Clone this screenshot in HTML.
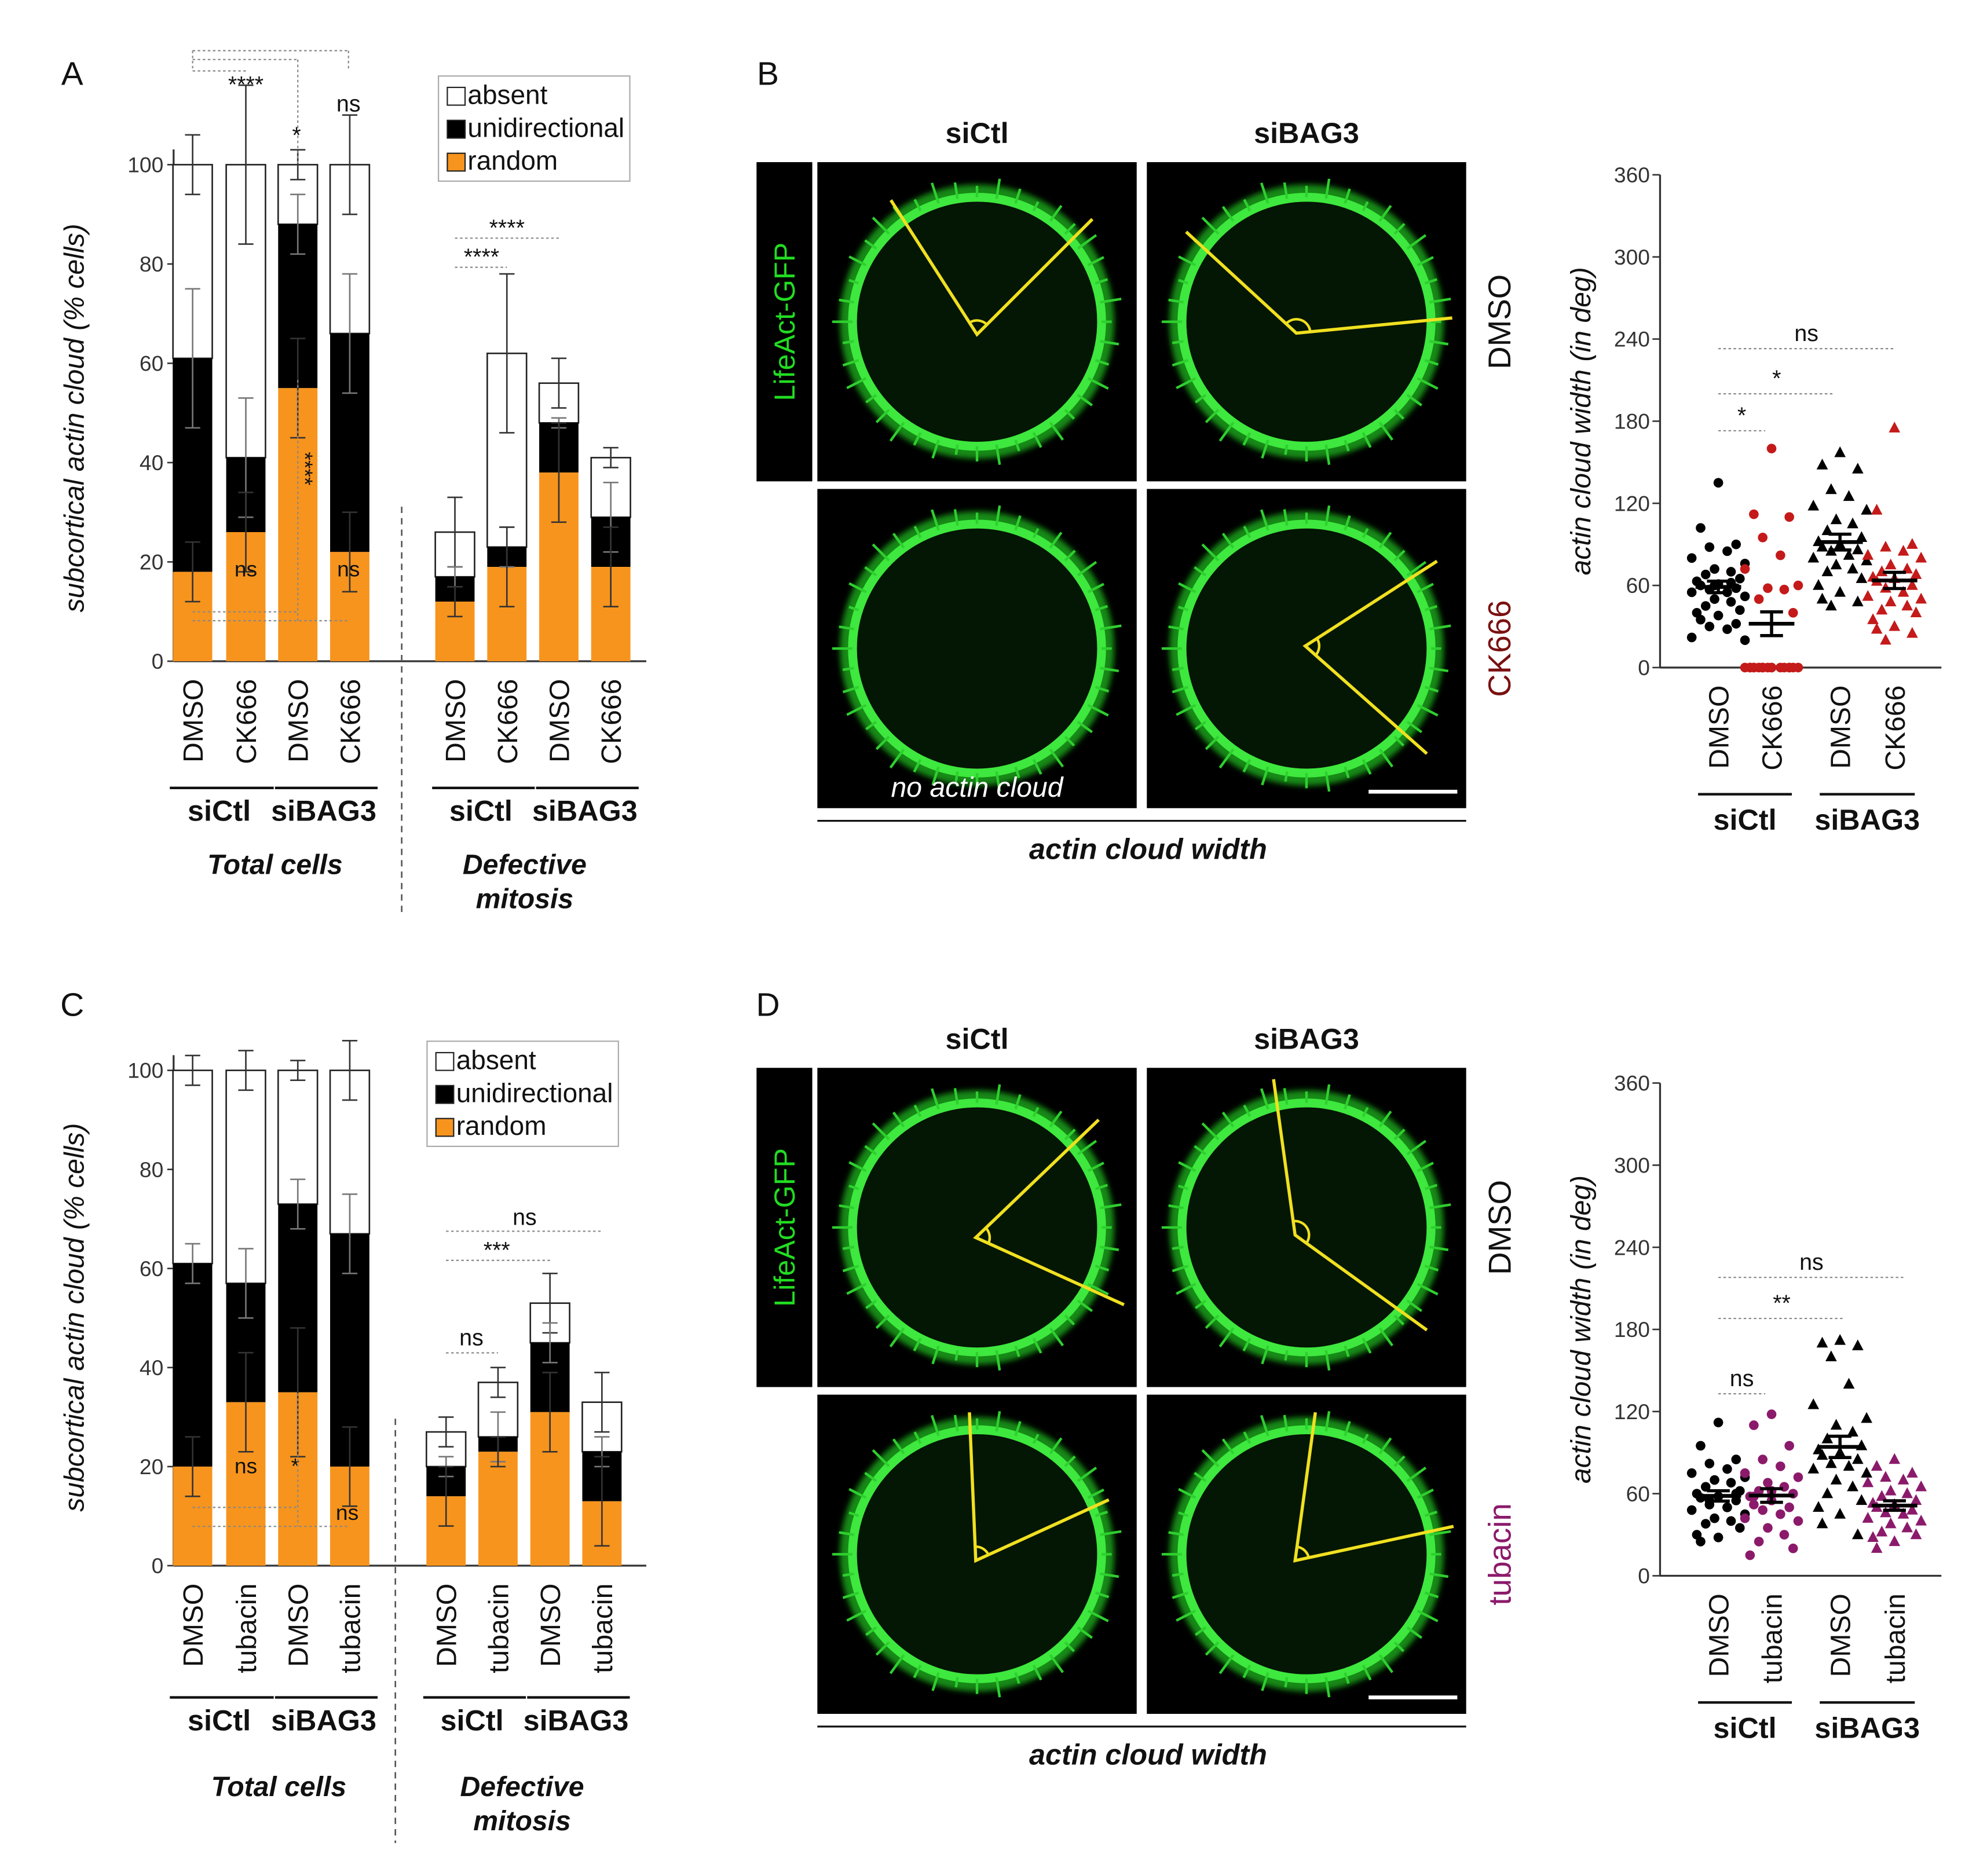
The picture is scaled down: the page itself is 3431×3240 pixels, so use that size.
<!DOCTYPE html>
<html><head><meta charset="utf-8"><style>
html,body{margin:0;padding:0;background:#fff;}
svg{display:block;font-family:"Liberation Sans",sans-serif;}
</style></head><body>
<svg id="fig" width="3431" height="3240" viewBox="0 0 1568 1481" preserveAspectRatio="none">
<defs>
<filter id="blur1"><feGaussianBlur stdDeviation="2.2"/></filter>
</defs>
<rect x="0" y="0" width="1568" height="1481" fill="#fff"/>
<g id="panels"></g>
</svg>
<script>
// ===== Panel A data (% cells) =====
const catsA = ["DMSO","CK666","DMSO","CK666","DMSO","CK666","DMSO","CK666"];
const randomA = [18,26,55,22,12,19,38,19];
const uniA = [61,41,88,66,17,23,48,29];
const totalA = [100,100,100,100,26,62,56,41];
const errTotA = [6,16,3,10,7,16,5,2];
const errUniA = [14,12,6,12,2,4,1,7];
const errRandA = [6,8,10,8,3,8,10,8];
// ===== Panel C data =====
const catsC = ["DMSO","tubacin","DMSO","tubacin","DMSO","tubacin","DMSO","tubacin"];
const randomC = [20,33,35,20,14,23,31,13];
const uniC = [61,57,73,67,20,26,45,23];
const totalC = [100,100,100,100,27,37,53,33];
const errTotC = [3,4,2,6,3,3,6,6];
const errUniC = [4,7,5,8,2,5,4,3];
const errRandC = [6,10,13,8,6,3,8,9];
const yTicksBar = [0,20,40,60,80,100];
// ===== Panel B scatter (deg) =====
const bCtlDMSO = [135,102,90,88,85,80,76,72,70,68,65,63,61,60,58,57,55,55,52,50,48,45,42,40,38,35,32,30,28,22,20,60,62];
const bCtlCK = [160,112,110,95,82,72,60,58,57,50,40,0,0,0,0,0,0,0,0,0,0,0,0,0,0,0,0,0];
const bBagDMSO = [157,148,145,130,125,118,115,108,105,100,95,92,90,88,86,85,82,80,78,75,72,70,65,60,55,50,48,45];
const bBagCK = [175,115,90,88,85,82,80,75,72,70,68,66,65,63,60,58,55,52,50,48,45,42,40,35,30,28,25,20];
// ===== Panel D scatter (deg) =====
const dCtlDMSO = [112,95,85,82,78,75,72,70,68,65,62,60,58,57,55,52,50,48,45,42,40,38,35,30,28,25,60,55,50];
const dCtlTub = [118,110,95,85,80,75,72,68,65,62,60,58,55,52,50,48,45,42,40,35,30,25,20,15,62,58];
const dBagDMSO = [172,170,168,160,140,125,115,110,105,100,95,92,90,88,85,82,80,78,75,70,65,60,55,50,45,38,30];
const dBagTub = [85,80,75,72,70,68,65,62,60,58,55,53,52,50,48,46,45,42,40,38,35,32,30,28,25,20];
const yTicksDeg = [0,60,120,180,240,300,360];

const NS="http://www.w3.org/2000/svg";
const root=document.getElementById('panels');
function el(tag,attrs,parent,text){const e=document.createElementNS(NS,tag);for(const k in attrs)e.setAttribute(k,attrs[k]);if(text!==undefined)e.textContent=text;(parent||root).appendChild(e);return e;}
function T(x,y,s,size,opts,parent){opts=opts||{};const a={x:x,y:y,'font-size':size,fill:opts.fill||'#111','text-anchor':opts.anchor||'middle'};if(opts.weight)a['font-weight']=opts.weight;if(opts.style)a['font-style']=opts.style;if(opts.rot)a.transform='rotate('+opts.rot+' '+x+' '+y+')';const t=el('text',a,parent,s);return t;}

function barPanel(yBase,y100,xs,cats,rnd,uni,tot,eT,eU,eR,name){
  const g=el('g',{});
  
  
  const ys=v=>yBase-(v/100)*(yBase-y100);
  const ax=137;
  el('line',{x1:ax,y1:ys(100)-12,x2:ax,y2:yBase,stroke:'#333','stroke-width':1.5},g);
  el('line',{x1:ax,y1:yBase,x2:510,y2:yBase,stroke:'#333','stroke-width':1.5},g);
  yTicksBar.forEach(v=>{
    el('line',{x1:ax-5,y1:ys(v),x2:ax,y2:ys(v),stroke:'#333','stroke-width':1.2},g);
    const t=T(ax-8,ys(v)+6,String(v),17,{anchor:'end',fill:'#333'},g);
    
    
  });
  const bw=31;
  xs.forEach((cx,i)=>{
    const x=cx-bw/2;
    const rw=el('rect',{x:x,y:ys(tot[i]),width:bw,height:ys(uni[i])-ys(tot[i]),fill:'#fff',stroke:'#222','stroke-width':1.2},g);
    
    
    const rb=el('rect',{x:x,y:ys(uni[i]),width:bw,height:ys(rnd[i])-ys(uni[i]),fill:'#000'},g);
    
    
    const ro=el('rect',{x:x,y:ys(rnd[i]),width:bw,height:yBase-ys(rnd[i]),fill:'#f7941d'},g);
    
    
    [[tot[i],eT[i],'#333'],[uni[i],eU[i],'#777'],[rnd[i],eR[i],'#333']].forEach(([v,e,c])=>{
      el('line',{x1:cx,y1:ys(v+e),x2:cx,y2:ys(v-e),stroke:c,'stroke-width':1.2},g);
      el('line',{x1:cx-6,y1:ys(v+e),x2:cx+6,y2:ys(v+e),stroke:c,'stroke-width':1.2},g);
      el('line',{x1:cx-6,y1:ys(v-e),x2:cx+6,y2:ys(v-e),stroke:c,'stroke-width':1.2},g);
    });
    const lt=T(cx+8,yBase+14,cats[i],22,{anchor:'end',rot:-90},g);
    
    
  });
  return {g:g,ys:ys};
}
function groupLabels(yLine,centers,g){
  [[centers[0],centers[1],'siCtl'],[centers[2],centers[3],'siBAG3'],[centers[4],centers[5],'siCtl'],[centers[6],centers[7],'siBAG3']].forEach(([a,b,s])=>{
    el('line',{x1:a-18,y1:yLine,x2:b+22,y2:yLine,stroke:'#111','stroke-width':2},g);
    const t=T((a+b)/2,yLine+26,s,23,{weight:'bold'},g);
    
    
  });
}
function dotted(x1,y1,x2,y2,g){el('line',{x1:x1,y1:y1,x2:x2,y2:y2,stroke:'#888','stroke-width':1,'stroke-dasharray':'2,2'},g);}
function legend(x,y,g){
  const lg=el('g',{},g);
  
  
  el('rect',{x:x,y:y,width:151,height:83,fill:'#fff',stroke:'#aaa','stroke-width':1},lg);
  [['absent','#fff'],['unidirectional','#000'],['random','#f7941d']].forEach(([s,c],i)=>{
    el('rect',{x:x+7,y:y+9+i*26,width:14,height:14,fill:c,stroke:'#222','stroke-width':1},lg);
    const t=T(x+23,y+22+i*26,s,21,{anchor:'start'},lg);
    
    
  });
}

// ---------- Panel A ----------
const xsA=[152,194,235,276,359,400,441,482];
const A=barPanel(522,130,xsA,catsA,randomA,uniA,totalA,errTotA,errUniA,errRandA,'panel-a-bar-chart');
T(57,67,'A',26,{anchor:'middle'},A.g);
{const t=T(66,330,'subcortical actin cloud (% cells)',22,{style:'italic',rot:-90},A.g);}
legend(346,60,A.g);
groupLabels(622,xsA,A.g);
T(217,690,'Total cells',22,{weight:'bold',style:'italic'},A.g);
T(414,690,'Defective',22,{weight:'bold',style:'italic'},A.g);
T(414,717,'mitosis',22,{weight:'bold',style:'italic'},A.g);
el('line',{x1:317,y1:400,x2:317,y2:720,stroke:'#555','stroke-width':1.2,'stroke-dasharray':'5,4'},A.g);
dotted(152,40,275,40,A.g);dotted(152,40,152,56,A.g);dotted(275,40,275,56,A.g);
dotted(152,47,235,47,A.g);dotted(235,47,235,130,A.g);dotted(152,56,194,56,A.g);
T(194,73,'****',18,{},A.g);T(234,113,'*',18,{},A.g);T(275,88,'ns',18,{},A.g);
T(194,455,'ns',17,{},A.g);T(275,455,'ns',17,{},A.g);T(235,370,'****',17,{rot:90},A.g);
dotted(152,483,235,483,A.g);dotted(152,490,276,490,A.g);dotted(235,300,235,490,A.g);
dotted(359,188,441,188,A.g);dotted(359,211,400,211,A.g);
T(400,186,'****',18,{},A.g);T(380,209,'****',18,{},A.g);

// ---------- Panel C ----------
const xsC=[152,194,235,276,352,393,434,475];
const C=barPanel(1236,845,xsC,catsC,randomC,uniC,totalC,errTotC,errUniC,errRandC,'panel-c-bar-chart');
T(57,802,'C',26,{},C.g);
{const t=T(66,1040,'subcortical actin cloud (% cells)',22,{style:'italic',rot:-90},C.g);}
legend(337,822,C.g);
groupLabels(1340,xsC,C.g);
T(220,1418,'Total cells',22,{weight:'bold',style:'italic'},C.g);
T(412,1418,'Defective',22,{weight:'bold',style:'italic'},C.g);
T(412,1445,'mitosis',22,{weight:'bold',style:'italic'},C.g);
el('line',{x1:312,y1:1120,x2:312,y2:1455,stroke:'#555','stroke-width':1.2,'stroke-dasharray':'5,4'},C.g);
T(194,1163,'ns',17,{},C.g);T(233,1163,'*',17,{},C.g);T(274,1200,'ns',17,{},C.g);
dotted(152,1190,235,1190,C.g);dotted(152,1205,276,1205,C.g);dotted(235,1100,235,1205,C.g);
dotted(352,972,475,972,C.g);dotted(352,995,434,995,C.g);dotted(352,1068,393,1068,C.g);
T(414,967,'ns',18,{},C.g);T(392,993,'***',18,{},C.g);T(372,1062,'ns',18,{},C.g);

// ---------- Microscopy panels ----------
function cell(x,y,w,h,angle,name){
  const g=el('g',{});
  
  
  el('rect',{x:x,y:y,width:w,height:h,fill:'#000'},g);
  const cx=x+w/2,cy=y+h/2,r=w*0.39;
  el('circle',{cx:cx,cy:cy,r:r+3,fill:'none',stroke:'#168a16','stroke-width':14,filter:'url(#blur1)'},g);
  el('circle',{cx:cx,cy:cy,r:r,fill:'#041604',stroke:'#3ee83e','stroke-width':7},g);
  for(let k=0;k<40;k++){const a=k*9*Math.PI/180;const l=8+((k*7)%11);el('line',{x1:cx+Math.cos(a)*r,y1:cy+Math.sin(a)*r,x2:cx+Math.cos(a)*(r+l),y2:cy+Math.sin(a)*(r+l),stroke:'#2fcf2f','stroke-width':2},g);}
  if(angle){const [ox,oy,ax1,ay1,ax2,ay2]=angle;
    el('polyline',{points:`${ax1},${ay1} ${ox},${oy} ${ax2},${ay2}`,fill:'none',stroke:'#f0e020','stroke-width':2.5},g);
    const a1=Math.atan2(ay1-oy,ax1-ox),a2=Math.atan2(ay2-oy,ax2-ox),rr=11;
    let d=a2-a1; while(d>Math.PI)d-=2*Math.PI; while(d<-Math.PI)d+=2*Math.PI;
    el('path',{d:`M${ox+rr*Math.cos(a1)},${oy+rr*Math.sin(a1)} A${rr},${rr} 0 0 ${d>0?1:0} ${ox+rr*Math.cos(a2)},${oy+rr*Math.sin(a2)}`,fill:'none',stroke:'#f0e020','stroke-width':2},g);
  }
  return g;
}
function microBlock(top,treat,treatColor,angles,label){
  const g=el('g',{});
  
  
  el('rect',{x:597,y:top,width:44,height:252,fill:'#000'},g);
  T(627,top+126,'LifeAct-GFP',23,{fill:'#22dd22',rot:-90},g);
  T(771,top-15,'siCtl',23,{weight:'bold'},g);
  T(1031,top-15,'siBAG3',23,{weight:'bold'},g);
  g.appendChild(cell(645,top,252,252,angles[0],'image-sictl-dmso'));
  g.appendChild(cell(905,top,252,252,angles[1],'image-sibag3-dmso'));
  g.appendChild(cell(645,top+258,252,252,angles[2],'image-sictl-treated'));
  g.appendChild(cell(905,top+258,252,252,angles[3],'image-sibag3-treated'));
  T(1192,top+126,'DMSO',25,{rot:-90},g);
  T(1192,top+384,treat,25,{rot:-90,fill:treatColor},g);
  el('line',{x1:1080,y1:top+497,x2:1150,y2:top+497,stroke:'#fff','stroke-width':3},g);
  el('line',{x1:645,y1:top+520,x2:1157,y2:top+520,stroke:'#111','stroke-width':1.5},g);
  T(906,top+550,'actin cloud width',23,{weight:'bold',style:'italic'},g);
}
T(606,67,'B',26,{});
microBlock(128,'CK666','#7a1010',[[771,264,703,158,862,173],[1023,263,936,183,1146,251],null,[1030,510,1134,443,1126,595]],'panel-b-images');
T(771,629,'no actin cloud',22,{fill:'#fff',style:'italic'});
T(606,802,'D',26,{});
microBlock(843,'tubacin','#8b1a6b',[[770,977,867,884,887,1030],[1022,975,1005,852,1126,1050],[770,1232,765,1115,875,1184],[1022,1232,1038,1115,1147,1205]],'panel-d-images');

// ---------- Scatter panels ----------
function scatter(yBase,y360,groups,colors,shapes,cats,name,sig){
  const g=el('g',{});
  
  
  const ax=1310, xs=[1356,1398,1452,1495];
  const ys=v=>yBase-(v/360)*(yBase-y360);
  el('line',{x1:ax,y1:y360,x2:ax,y2:yBase,stroke:'#333','stroke-width':1.5},g);
  el('line',{x1:ax,y1:yBase,x2:1532,y2:yBase,stroke:'#333','stroke-width':1.5},g);
  yTicksDeg.forEach(v=>{
    el('line',{x1:ax-6,y1:ys(v),x2:ax,y2:ys(v),stroke:'#333','stroke-width':1.2},g);
    const t=T(ax-8,ys(v)+6,String(v),17,{anchor:'end',fill:'#333'},g);
    
    
  });
  const yt=T(1255,(yBase+y360)/2,'actin cloud width (in deg)',22,{style:'italic',rot:-90},g);
  
  
  groups.forEach((arr,gi)=>{
    const cx=xs[gi];
    arr.forEach((v,i)=>{
      const off=[0,-14,14,-7,7,-21,21,-3,10,-10,17,-17][i%12];
      const px=cx+off, py=ys(v);
      let m;
      if(shapes[gi]==='c') m=el('circle',{cx:px,cy:py,r:3.8,fill:colors[gi]},g);
      else m=el('polygon',{points:`${px},${py-5} ${px-4.5},${py+3.5} ${px+4.5},${py+3.5}`,fill:colors[gi]},g);
      
      
    });
    const mean=arr.reduce((a,b)=>a+b,0)/arr.length;
    const sd=Math.sqrt(arr.reduce((a,b)=>a+(b-mean)*(b-mean),0)/(arr.length-1));
    const sem=sd/Math.sqrt(arr.length);
    const ml=el('line',{x1:cx-18,y1:ys(mean),x2:cx+18,y2:ys(mean),stroke:'#000','stroke-width':3},g);
    
    
    el('line',{x1:cx,y1:ys(mean+sem),x2:cx,y2:ys(mean-sem),stroke:'#000','stroke-width':2.5},g);
    el('line',{x1:cx-9,y1:ys(mean+sem),x2:cx+9,y2:ys(mean+sem),stroke:'#000','stroke-width':2.5},g);
    el('line',{x1:cx-9,y1:ys(mean-sem),x2:cx+9,y2:ys(mean-sem),stroke:'#000','stroke-width':2.5},g);
    const lt=T(cx+8,yBase+14,cats[gi],22,{anchor:'end',rot:-90},g);
    
    
  });
  [[xs[0],xs[1],'siCtl'],[xs[2],xs[3],'siBAG3']].forEach(([a,b,s])=>{
    el('line',{x1:a-16,y1:yBase+100,x2:b+16,y2:yBase+100,stroke:'#111','stroke-width':2},g);
    T((a+b)/2,yBase+128,s,23,{weight:'bold'},g);
  });
  sig.forEach(([v,x2,s])=>{dotted(xs[0],ys(v),x2,ys(v),g);T((xs[0]+x2)/2,ys(v)-6,s,18,{},g);});
}
scatter(527,138,[bCtlDMSO,bCtlCK,bBagDMSO,bBagCK],['#000','#c41a1a','#000','#c41a1a'],['c','c','t','t'],["DMSO","CK666","DMSO","CK666"],'panel-b-scatter',[[173,1393,'*'],[200,1448,'*'],[233,1495,'ns']]);
scatter(1244,855,[dCtlDMSO,dCtlTub,dBagDMSO,dBagTub],['#000','#8b1a6b','#000','#8b1a6b'],['c','c','t','t'],["DMSO","tubacin","DMSO","tubacin"],'panel-d-scatter',[[133,1393,'ns'],[188,1456,'**'],[218,1503,'ns']]);
</script>
</body></html>
